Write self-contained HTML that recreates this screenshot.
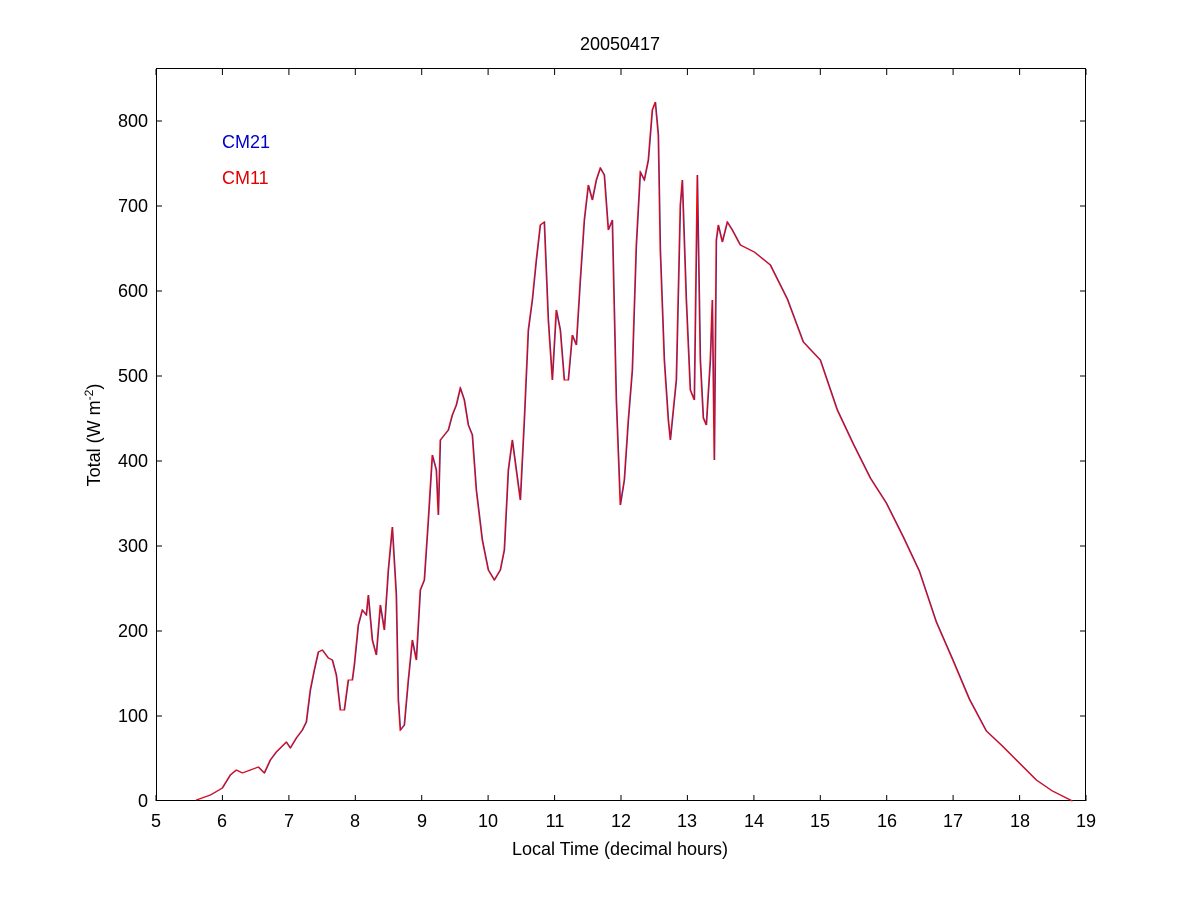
<!DOCTYPE html><html><head><style>body{margin:0;background:#fff}svg{display:block}text{font-family:"Liberation Sans",sans-serif;font-size:18px;fill:#000}</style></head><body>
<svg width="1200" height="900">
<defs>
<polyline id="c" fill="none" points="196,800 210,795 222,788 230,775 236,770 242,773 250,770 258,767 264,773 270,760 276,752 282,746 286,742 290,748 296,738 302,730 306,722 310,690 314,670 318,652 322,650 328,658 332,660 336,675 340,710 344,710 348,680 352,680 354,665 358,625 362,610 366,615 368,595 372,640 376,655 380,605 384,630 388,570 392,527 396,595 398,700 400,730 404,725 408,680 412,640 416,660 420,590 424,580 428,520 432,455 436,470 438,515 440,440 444,435 448,430 452,415 456,405 460,388 464,400 468,425 472,435 476,490 482,540 488,570 494,580 500,570 504,550 508,470 512,440 516,470 520,500 524,420 528,330 532,300 536,260 540,225 544,222 548,320 552,380 556,310 560,330 564,380 568,380 572,335 576,345 580,280 584,220 588,185 592,200 596,180 600,168 604,175 608,230 612,220 616,400 620,505 624,480 628,420 632,370 636,245 640,172 644,180 648,160 652,110 655,102 658,135 660,250 664,360 668,420 670,440 672,420 676,380 680,205 682,180 686,300 690,390 694,400 697,175 700,360 703,418 706,425 710,360 712,300 714,460 716,240 718,225 722,242 727,222 732,230 740,245 754,252 770,265 787,299 803,342 820,360 837,410 853,444 870,478 886,503 903,537 919,571 936,622 953,661 969,699 986,731 1002,746 1019,763 1036,780 1052,791 1072,801"/>
</defs>
<rect x="156.5" y="68.5" width="929" height="732" fill="none" stroke="#000"/>
<g stroke="#000">
<path d="M156,801v-6M222.4,801v-6M288.9,801v-6M355.3,801v-6M421.7,801v-6M488.1,801v-6M554.6,801v-6M621,801v-6M687.4,801v-6M753.9,801v-6M820.3,801v-6M886.7,801v-6M953.1,801v-6M1019.6,801v-6M1086,801v-6"/>
<path d="M156,69v6M222.4,69v6M288.9,69v6M355.3,69v6M421.7,69v6M488.1,69v6M554.6,69v6M621,69v6M687.4,69v6M753.9,69v6M820.3,69v6M886.7,69v6M953.1,69v6M1019.6,69v6M1086,69v6"/>
<path d="M156,716h6M156,631h6M156,546h6M156,461h6M156,376h6M156,291h6M156,206h6M156,121h6M1086,716h-6M1086,631h-6M1086,546h-6M1086,461h-6M1086,376h-6M1086,291h-6M1086,206h-6M1086,121h-6"/>
</g>
<g text-anchor="middle">
<text x="156" y="827">5</text><text x="222" y="827">6</text><text x="289" y="827">7</text><text x="355" y="827">8</text><text x="422" y="827">9</text><text x="488" y="827">10</text><text x="555" y="827">11</text><text x="621" y="827">12</text><text x="687" y="827">13</text><text x="754" y="827">14</text><text x="820" y="827">15</text><text x="887" y="827">16</text><text x="953" y="827">17</text><text x="1020" y="827">18</text><text x="1086" y="827">19</text>
<text x="620" y="855">Local Time (decimal hours)</text>
<text x="620" y="50">20050417</text>
</g>
<g text-anchor="end">
<text x="148" y="807">0</text><text x="148" y="722">100</text><text x="148" y="637">200</text><text x="148" y="552">300</text><text x="148" y="467">400</text><text x="148" y="382">500</text><text x="148" y="297">600</text><text x="148" y="212">700</text><text x="148" y="127">800</text>
</g>
<text transform="translate(100,435) rotate(-90)" text-anchor="middle">Total (W m<tspan dy="-7" font-size="12">-2</tspan><tspan dy="7">)</tspan></text>
<text x="222" y="148" style="fill:#0000cc">CM21</text>
<text x="222" y="184" style="fill:#e00000">CM11</text>
<use href="#c" stroke="#3030a0" stroke-width="1" transform="translate(0.7,0)"/>
<use href="#c" stroke="#ff0000" stroke-width="1"/>
</svg></body></html>
